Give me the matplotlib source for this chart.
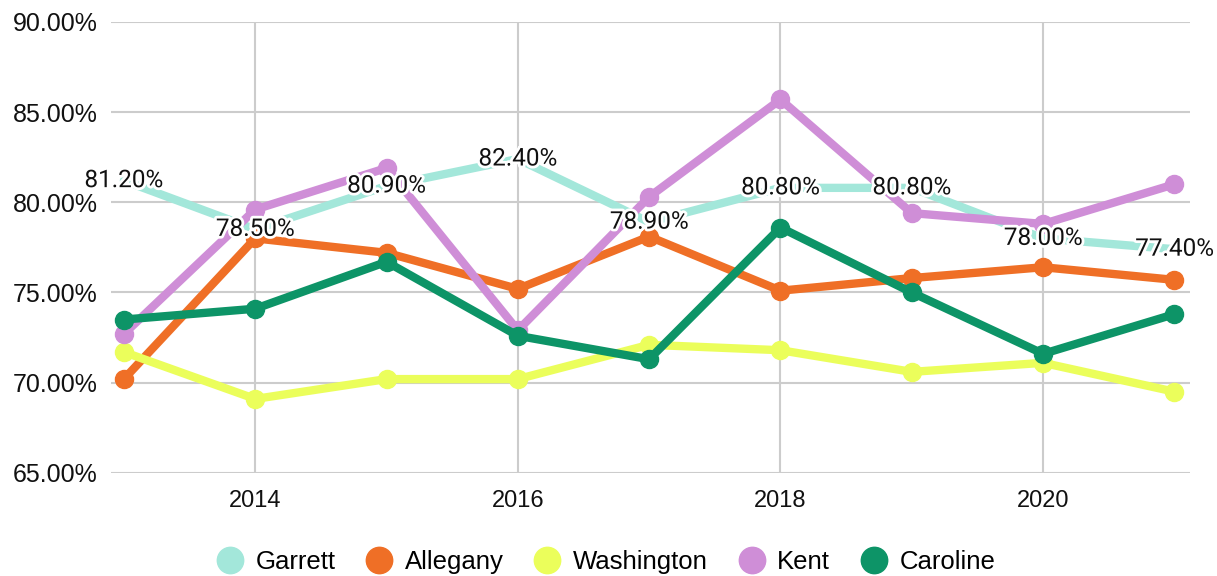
import matplotlib.pyplot as plt
import matplotlib.patheffects as pe
from matplotlib.ticker import FuncFormatter

plt.rcParams['font.family'] = ['Liberation Sans', 'DejaVu Sans']

years = [2013, 2014, 2015, 2016, 2017, 2018, 2019, 2020, 2021]
garrett = [81.2, 78.5, 80.9, 82.4, 78.9, 80.8, 80.8, 78.0, 77.4]
allegany = [70.2, 78.0, 77.2, 75.2, 78.1, 75.1, 75.8, 76.4, 75.7]
washington = [71.7, 69.1, 70.2, 70.2, 72.1, 71.8, 70.6, 71.1, 69.5]
kent = [72.7, 79.6, 81.9, 72.9, 80.3, 85.7, 79.4, 78.8, 81.0]
caroline = [73.5, 74.1, 76.7, 72.6, 71.3, 78.6, 75.0, 71.6, 73.8]

fig = plt.figure(figsize=(12.17, 5.76), dpi=100)
ax = fig.add_axes([0.091, 0.179, 0.887, 0.783])

lw = 6
ms = 13
ax.plot(years, garrett, color='#a3e7da', lw=lw, zorder=2, solid_capstyle='round')
ax.plot(years, allegany, color='#ef6f26', lw=lw, marker='o', ms=ms, zorder=3)
ax.plot(years, washington, color='#ebfe5b', lw=lw, marker='o', ms=ms, zorder=3)
ax.plot(years, kent, color='#cf8ed7', lw=lw, marker='o', ms=ms, zorder=3)
ax.plot(years, caroline, color='#0d9467', lw=lw, marker='o', ms=ms, zorder=3)

for x, v in zip(years, garrett):
    ax.text(x, v, f'{v:.2f}%', ha='center', va='center', fontsize=17.5,
            family=['Roboto', 'DejaVu Sans'], color='#111111', zorder=5,
            path_effects=[pe.withStroke(linewidth=4, foreground='white')])

ax.set_xlim(2012.9, 2021.12)
ax.set_ylim(65, 90)
ax.set_xticks([2014, 2016, 2018, 2020])
ax.set_yticks([65, 70, 75, 80, 85, 90])
ax.yaxis.set_major_formatter(FuncFormatter(lambda v, p: f'{v:.2f}%'))
ax.tick_params(axis='y', labelsize=18, length=0, colors='#111111', pad=9.5)
ax.tick_params(axis='x', labelsize=17, length=0, colors='#111111', pad=12)
ax.grid(True, color='#cccccc', lw=1.5)
ax.set_axisbelow(True)
for s in ax.spines.values():
    s.set_visible(False)

handles = [plt.Line2D([], [], ls='', marker='o', ms=19, color=c)
           for c in ['#a3e7da', '#ef6f26', '#ebfe5b', '#cf8ed7', '#0d9467']]
fig.legend(handles, ['Garrett', 'Allegany', 'Washington', 'Kent', 'Caroline'],
           loc='center', bbox_to_anchor=(0.497, 0.024), ncol=5, frameon=False,
           fontsize=18.5, handletextpad=0.4, columnspacing=1.1, handlelength=1.2)

fig.savefig('out.png', dpi=100)
